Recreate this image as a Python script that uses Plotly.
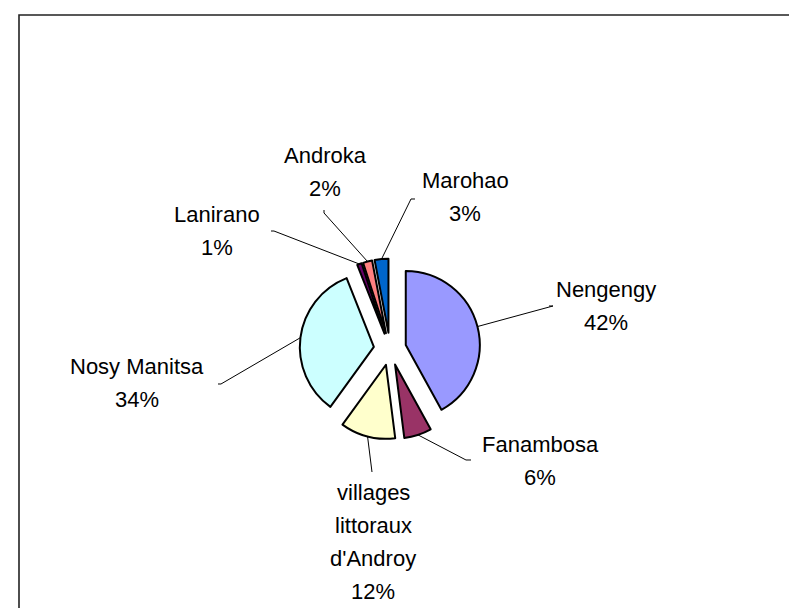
import math
import plotly.graph_objects as go

# ---- data ----
names = ["Nengengy", "Fanambosa", "villages littoraux d'Androy", "Nosy Manitsa",
         "Lanirano", "Androka", "Marohao"]
label_lines = [["Nengengy"], ["Fanambosa"], ["villages", "littoraux", "d'Androy"],
               ["Nosy Manitsa"], ["Lanirano"], ["Androka"], ["Marohao"]]
values = [42, 6, 12, 34, 1, 2, 3]
colors = ["#9999FF", "#993366", "#FFFFCC", "#CCFFFF", "#660066", "#FF8080", "#0066CC"]

# ---- layout constants (pixels) ----
W, H = 797, 608
CX, CY, R = 382, 341, 74
PULL = 0.22
FONT = 22
LINE_GAP = 33
# label text centre (x, first-line y) and leader-line attach points near the label
label_pos = [(598, 281), (532, 436), (365, 484), (129, 358), (209, 206), (317, 147), (457, 172)]
attach = [[(541, 298), (545, 298)],
          [(463, 452), (458, 452)],
          [(364, 464)],
          [(210, 376), (213, 376)],
          [(263, 223), (266, 223)],
          [(316, 202), (316, 205)],
          [(407, 191), (403, 191)]]


def px(x):
    return x / W


def py(y):
    return 1 - y / H


side = 2 * R * (1 + PULL)
fig = go.Figure(go.Pie(
    labels=names, values=values, sort=False, direction="clockwise", rotation=0,
    pull=[PULL] * len(values), textinfo="none", hoverinfo="label+percent",
    marker=dict(colors=colors, line=dict(color="black", width=2)),
    domain=dict(x=[px(CX - side / 2), px(CX + side / 2)],
                y=[py(CY + side / 2), py(CY - side / 2)]),
    showlegend=False,
))

total = sum(values)
shapes = []
annotations = []
cum = 0
for i, v in enumerate(values):
    mid = (cum + v / 2) / total * 2 * math.pi
    cum += v
    ex = CX + R * (1 + PULL) * math.sin(mid)
    ey = CY - R * (1 + PULL) * math.cos(mid)
    pts = attach[i] + [(ex, ey)]
    path = "M " + " L ".join(f"{px(x):.5f},{py(y):.5f}" for x, y in pts)
    shapes.append(dict(type="path", xref="paper", yref="paper", path=path,
                       line=dict(color="black", width=1)))
    lines = label_lines[i] + [f"{v}%"]
    lx, ly = label_pos[i]
    for k, t in enumerate(lines):
        annotations.append(dict(x=px(lx), y=py(ly + k * LINE_GAP), xref="paper", yref="paper",
                                text=t, showarrow=False, xanchor="center", yanchor="middle",
                                font=dict(family="Liberation Sans, Arial", size=FONT, color="black")))

# chart border
shapes.append(dict(type="rect", xref="paper", yref="paper",
                   x0=px(11), y0=py(620), x1=px(810), y1=py(7),
                   line=dict(color="#222222", width=1.6)))

fig.update_layout(width=W, height=H, margin=dict(l=0, r=0, t=0, b=0),
                  paper_bgcolor="white", plot_bgcolor="white",
                  shapes=shapes, annotations=annotations)
fig.write_html("out.html")
